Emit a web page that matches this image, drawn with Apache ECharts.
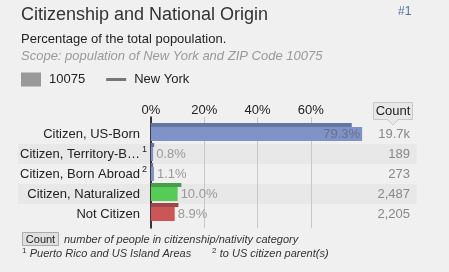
<!DOCTYPE html>
<html><head><meta charset="utf-8">
<script src="https://cdn.jsdelivr.net/npm/echarts@6/dist/echarts.min.js"></script>
<style>html,body{margin:0;padding:0;background:#f0f0f0;}#c{width:449px;height:272px;}</style>
</head><body><div id="c"></div>
<script>
const categories = ['Citizen, US-Born', 'Citizen, Territory-B\u2026', 'Citizen, Born Abroad', 'Citizen, Naturalized', 'Not Citizen'];
const footnoteMarks = ['', '1', '2', '', ''];
const zipValues = [79.3, 0.8, 1.1, 10.0, 8.9];
const nyValues = [75.4, 1.2, 0.8, 11.4, 10.3];
const counts = ['19.7k', '189', '273', '2,487', '2,205'];
const barColors = ['#7f93c8', '#7f93c8', '#7f93c8', '#55cc55', '#cc5555'];
const nyColors = ['#6676a3', '#6676a3', '#6676a3', '#4a9c4a', '#a0464b'];
const xTicks = [0, 20, 40, 60];

const FF = '"Liberation Sans", Arial, sans-serif';
const chart = echarts.init(document.getElementById('c'), null, {renderer: 'canvas'});

const hiddenCat = (grid, data, extra) => Object.assign({
  gridIndex: grid, type: 'category', data: data, inverse: true,
  axisLine: {show: false}, axisTick: {show: false}, axisLabel: {show: false}, splitLine: {show: false}
}, extra || {});

const option = {
  animation: false,
  backgroundColor: '#f0f0f0',
  textStyle: {fontFamily: FF},
  title: [
    {text: 'Citizenship and National Origin', left: 21, top: 6, padding: 0,
      textStyle: {fontSize: 18, fontWeight: 'normal', color: '#333', fontFamily: FF}},
    {text: 'Percentage of the total popoulation.', left: 21, top: 33, padding: 0,
      textStyle: {fontSize: 13, fontWeight: 'normal', color: '#222', fontFamily: FF}},
    {text: 'Scope: population of New York and ZIP Code 10075', left: 21, top: 50, padding: 0,
      textStyle: {fontSize: 13, fontWeight: 'normal', fontStyle: 'italic', color: '#999', fontFamily: FF}},
    {text: '#1', left: 398, top: 6, padding: 0,
      textStyle: {fontSize: 12, fontWeight: 'normal', color: '#4f70a8', fontFamily: FF}}
  ],
  legend: {
    left: 21, top: 72.5, padding: 0, itemWidth: 20, itemHeight: 14, itemGap: 21,
    selectedMode: false,
    textStyle: {fontSize: 13, color: '#222', fontFamily: FF, padding: [0, 0, 0, 3]},
    data: [
      {name: '10075', icon: 'rect'},
      {name: 'New York', icon: 'path://M0,0h20v3h-20z'}
    ]
  },
  grid: [
    {left: 18, width: 398.7, top: 124, height: 100},
    {left: 151, width: 213, top: 122, height: 100},
    {left: 151, width: 213, top: 117, height: 111},
    {left: 151, width: 213, top: 124, height: 100}
  ],
  xAxis: [
    {gridIndex: 0, type: 'value', min: 0, max: 1, show: false},
    {gridIndex: 1, type: 'value', min: 0, max: 80, show: false},
    {gridIndex: 2, type: 'value', min: 0, max: 80, interval: 20, position: 'top',
      axisLine: {show: false}, axisTick: {show: false},
      axisLabel: {color: '#222', fontSize: 13, margin: 0, fontFamily: FF,
        formatter: v => xTicks.indexOf(v) >= 0 ? v + '%' : ''},
      splitLine: {show: true, lineStyle: {width: 1, color: ['#c8c8c8', '#c8c8c8', '#c8c8c8', '#c8c8c8', 'rgba(0,0,0,0)']}}},
    {gridIndex: 3, type: 'value', min: 0, max: 80, show: false}
  ],
  yAxis: [
    hiddenCat(0, categories, {splitArea: {show: true, areaStyle: {color: ['rgba(0,0,0,0)', '#e8e8e8']}}}),
    hiddenCat(1, categories),
    {gridIndex: 2, type: 'value', min: 0, max: 1,
      axisLine: {show: true, lineStyle: {color: '#000', width: 1.5}},
      axisTick: {show: false}, axisLabel: {show: false}, splitLine: {show: false}},
    hiddenCat(3, categories, {axisLabel: {show: true, margin: 4,
      formatter: (v, i) => footnoteMarks[i] ? '{a|' + v + '}{s|' + footnoteMarks[i] + '}' : '{b|' + v + '}',
      rich: {
        a: {fontSize: 13, color: '#222', fontFamily: FF},
        b: {fontSize: 13, color: '#222', fontFamily: FF, padding: [0, 7, 0, 0]},
        s: {fontSize: 9, color: '#222', fontFamily: FF, padding: [0, 0, 8, 2]}
      }}}),
    hiddenCat(3, counts, {position: 'right', axisLabel: {show: true, align: 'right', margin: 46,
      color: '#888', fontSize: 13, fontFamily: FF}})
  ],
  series: [
    {type: 'bar', name: 'New York', xAxisIndex: 1, yAxisIndex: 1, barWidth: 4, barGap: 0,
      itemStyle: {color: '#777'}, z: 3,
      data: nyValues.map((v, i) => ({value: v, itemStyle: {color: nyColors[i]}}))},
    {type: 'bar', name: '10075', xAxisIndex: 1, yAxisIndex: 1, barWidth: 14, barGap: 0,
      itemStyle: {color: '#999'}, z: 3,
      label: {show: true, position: 'right', distance: 3, color: '#999', fontSize: 13, fontFamily: FF,
        formatter: p => p.value.toFixed(1) + '%'},
      data: zipValues.map((v, i) => ({
        value: v, itemStyle: {color: barColors[i]},
        label: v > 50 ? {position: 'insideRight', distance: 2, color: '#6a7088'} : {}
      }))}
  ],
  graphic: [
    {type: 'polygon', shape: {points: [[387.5, 119], [398.5, 119], [393, 125]]},
      style: {fill: '#e8e8e8', stroke: 'none'}, z: 10},
    {type: 'polyline', shape: {points: [[387.5, 119.5], [393, 125], [398.5, 119.5]]},
      style: {fill: 'none', stroke: '#c8c8c8', lineWidth: 1}, z: 10},
    {type: 'rect', shape: {x: 373.5, y: 102.5, width: 39, height: 17},
      style: {fill: '#e8e8e8', stroke: '#c8c8c8', lineWidth: 1}, z: 9},
    {type: 'rect', shape: {x: 388, y: 118, width: 10, height: 2}, style: {fill: '#e8e8e8'}, z: 10},
    {type: 'text', x: 393, y: 111.5, z: 11,
      style: {text: 'Count', font: '13px ' + FF, fill: '#222', align: 'center', verticalAlign: 'middle'}},
    {type: 'rect', shape: {x: 22.5, y: 232.5, width: 36, height: 13},
      style: {fill: '#e0e0e0', stroke: '#aaa', lineWidth: 1}, z: 9},
    {type: 'text', x: 40.5, y: 239.5, z: 11,
      style: {text: 'Count', font: '11px ' + FF, fill: '#222', align: 'center', verticalAlign: 'middle'}},
    {type: 'text', x: 64, y: 239.5, z: 11,
      style: {text: 'number of people in citizenship/nativity category', font: 'italic 11px ' + FF, fill: '#333', verticalAlign: 'middle'}},
    {type: 'text', x: 22, y: 254, z: 11,
      style: {text: '{s|1} {t|Puerto Rico and US Island Areas}', verticalAlign: 'middle',
        rich: {s: {fontSize: 8, fill: '#333', fontFamily: FF, padding: [0, 0, 6, 0]},
               t: {fontSize: 11, fontStyle: 'italic', fill: '#333', fontFamily: FF}}}},
    {type: 'text', x: 212, y: 254, z: 11,
      style: {text: '{s|2} {t|to US citizen parent(s)}', verticalAlign: 'middle',
        rich: {s: {fontSize: 8, fill: '#333', fontFamily: FF, padding: [0, 0, 6, 0]},
               t: {fontSize: 11, fontStyle: 'italic', fill: '#333', fontFamily: FF}}}}
  ]
};
chart.setOption(option);
</script>
</body></html>
